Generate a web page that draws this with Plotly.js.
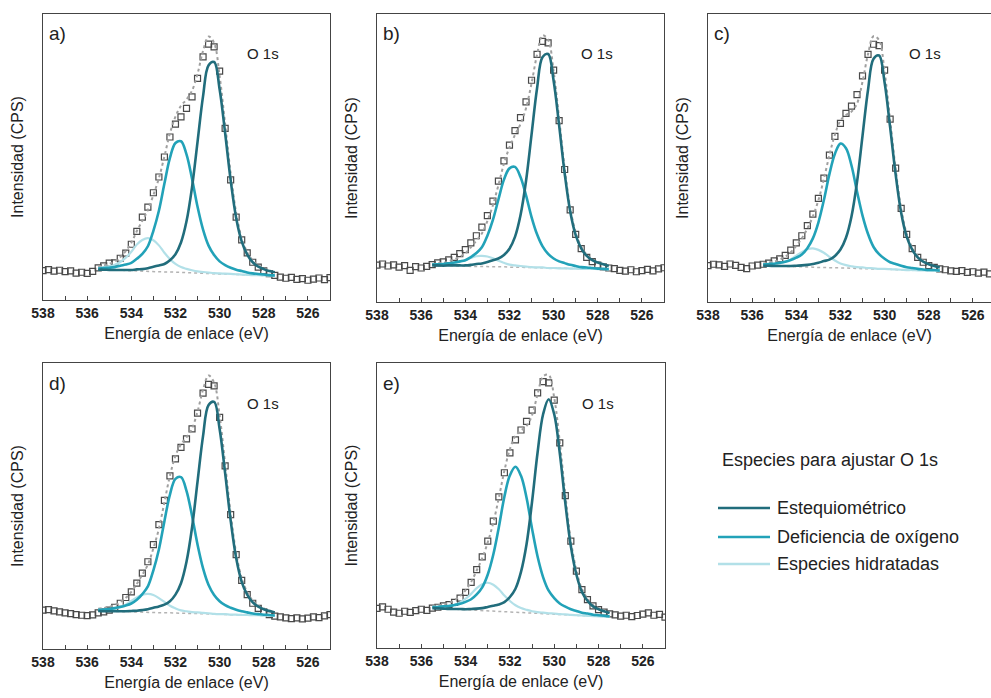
<!DOCTYPE html>
<html><head><meta charset="utf-8">
<script src="https://cdn.plot.ly/plotly-3.0.1.min.js"></script>
<style>html,body{margin:0;padding:0;background:#fff}#chart{width:991px;height:698px}</style>
</head><body><div id="chart"></div>
<script>
// ---- text ----
const PANEL_LABELS = ['a)', 'b)', 'c)', 'd)', 'e)'];
const PEAK_LABEL = 'O 1s';
const X_TITLE = 'Energía de enlace (eV)';
const Y_TITLE = 'Intensidad (CPS)';
const LEGEND_TITLE = 'Especies para ajustar O 1s';
const SERIES_NAMES = ['Estequiométrico', 'Deficiencia de oxígeno', 'Especies hidratadas'];
const SERIES_COLORS = ['#216d7c', '#22a2b8', '#b2e0e8'];

// ---- binding energy grids (eV) ----
const FIT_X = [535.5,535.25,535,534.75,534.5,534.25,534,533.75,533.5,533.25,533,532.75,532.5,532.25,532,531.75,531.5,531.25,531,530.75,530.5,530.25,530,529.75,529.5,529.25,529,528.75,528.5,528.25,528,527.75,527.5];
const DATA_X = [538,537.75,537.5,537.25,537,536.75,536.5,536.25,536,535.75,
  535.5,535.25,535,534.75,534.5,534.25,534,533.75,533.5,533.25,533,532.75,532.5,532.25,532,531.75,531.5,531.25,531,530.75,530.5,530.25,530,529.75,529.5,529.25,529,528.75,528.5,528.25,528,527.75,527.5,
  527.25,527,526.75,526.5,526.25,526,525.75,525.5,525.25,525];

// ---- panel a ----
const BASE_A = [10.6,10.6,10.5,10.4,10.4,10.3,10.2,10.2,10.1,10.0,10.0,9.9,9.8,9.8,9.7,9.6,9.6,9.5,9.4,9.3,9.3,9.2,9.1,9.1,9.0,8.9,8.9,8.8,8.7,8.7,8.6,8.5,8.5];
const EST_A = [0,0,0,0.1,0.1,0.2,0.3,0.5,0.7,1.1,1.6,2.2,2.8,4.1,6.3,10.5,17.9,29.9,45.9,62.0,72.8,74.0,64.6,49.3,32.9,19.8,11.6,7.1,4.5,3.0,2.2,1.6,1.2];
const DEF_A = [0.4,0.6,0.8,1.1,1.6,2.1,2.8,4.2,6.0,8.8,14.2,21.3,30.9,39.9,45.2,45.9,41.3,32.9,23.2,15.3,9.7,6.5,4.4,3.1,2.3,1.7,1.2,0.8,0.6,0.4,0.3,0.2,0.1];
const HYD_A = [0.6,0.9,1.3,1.9,2.9,4.5,6.7,9.2,10.9,11.6,10.9,9.2,6.7,4.5,2.9,1.9,1.3,0.9,0.6,0.5,0.3,0.2,0.2,0.1,0.1,0.1,0,0,0,0,0,0,0];
const DATA_A = [10.3,10.6,10.1,10.4,9.9,10.2,9.4,9.7,9.3,10.0,
  11.2,11.9,12.9,13.0,14.6,16.4,19.5,24.0,29.0,32.5,37.5,43.0,50.0,57.0,61.5,64.0,67.0,71.0,77.5,85.0,89.5,88.5,80.0,60.0,42.0,29.0,21.0,16.5,13.2,11.5,10.2,9.2,8.6,
  8.0,7.6,7.9,7.2,7.5,6.9,7.3,7.7,7.1,7.8];

// ---- panel b ----
const BASE_B = [12.7,12.7,12.6,12.6,12.5,12.5,12.4,12.4,12.4,12.3,12.3,12.3,12.2,12.2,12.1,12.1,12.1,12.0,11.9,11.9,11.9,11.8,11.8,11.7,11.7,11.6,11.6,11.5,11.5,11.5,11.4,11.4,11.3];
const EST_B = [0,0,0,0.1,0.2,0.2,0.3,0.5,0.8,1.1,1.6,2.2,2.9,4.1,6.4,10.5,18.0,30.0,46.2,62.3,73.2,74.3,65.0,49.6,33.0,19.9,11.6,7.1,4.5,3.0,2.3,1.7,1.2];
const DEF_B = [0.3,0.4,0.6,0.8,1.2,1.6,2.1,3.2,4.6,6.7,10.7,16.2,23.4,30.3,34.3,34.8,31.3,25.0,17.6,11.6,7.4,4.9,3.3,2.4,1.8,1.3,0.9,0.6,0.5,0.3,0.2,0.1,0.1];
const HYD_B = [0.2,0.3,0.4,0.6,0.9,1.4,2.1,2.9,3.5,3.7,3.5,2.9,2.1,1.4,0.9,0.6,0.4,0.3,0.2,0.1,0.1,0,0,0,0,0,0,0,0,0,0,0,0];
const DATA_B = [12.8,13.2,12.5,12.9,12.1,12.6,11.0,12.3,11.8,12.4,
  13.0,13.6,13.9,14.6,15.5,16.8,18.2,20.5,23.0,26.0,30.0,35.0,42.0,49.0,54.5,59.5,64.0,69.5,77.0,86.0,90.5,90.0,80.5,63.0,46.0,32.0,23.5,18.5,15.5,14.0,12.8,12.2,11.8,
  11.6,11.0,10.7,11.2,10.5,10.9,11.3,10.8,11.5,11.9];

// ---- panel c ----
const BASE_C = [12.6,12.6,12.5,12.4,12.4,12.3,12.3,12.2,12.2,12.1,12.0,12.0,11.9,11.9,11.8,11.8,11.7,11.6,11.6,11.5,11.5,11.4,11.4,11.3,11.3,11.2,11.1,11.1,11.0,11.0,10.9,10.9,10.8];
const EST_C = [0,0,0,0.1,0.1,0.2,0.3,0.5,0.7,1.1,1.6,2.2,2.8,4.1,6.4,10.5,18.0,30.0,46.1,62.2,73.0,74.2,64.8,49.4,33.0,19.8,11.6,7.1,4.5,3.0,2.2,1.6,1.2];
const DEF_C = [0.4,0.6,0.8,1.2,1.6,2.3,3.1,4.3,6.5,10.0,15.6,23.4,32.5,39.6,43.2,41.6,35.7,26.8,18.4,12.1,7.6,5.2,3.6,2.5,1.9,1.4,1.0,0.7,0.5,0.3,0.2,0.2,0.1];
const HYD_C = [0.4,0.5,0.7,1.0,1.6,2.5,3.8,5.1,6.1,6.5,6.1,5.1,3.8,2.5,1.6,1.0,0.7,0.5,0.4,0.3,0.2,0.1,0.1,0.1,0,0,0,0,0,0,0,0,0];
const DATA_C = [12.6,13.1,12.9,12.4,13.2,12.7,12.0,11.6,12.5,12.8,
  13.1,13.5,14.3,15.0,16.2,18.0,20.5,23.0,26.5,30.5,36.0,43.0,51.0,57.5,62.0,65.5,68.0,72.0,78.5,86.0,89.5,89.0,80.5,63.5,46.5,32.5,23.5,18.5,15.5,13.8,12.6,12.0,11.5,
  11.2,10.8,10.6,10.9,10.3,10.5,10.0,10.4,9.8,10.2];

// ---- panel d ----
const BASE_D = [13.3,13.2,13.2,13.1,13.1,13.0,13.0,12.9,12.9,12.8,12.8,12.7,12.7,12.6,12.6,12.5,12.5,12.4,12.4,12.3,12.3,12.2,12.1,12.1,12.0,12.0,11.9,11.9,11.8,11.8,11.7,11.7,11.6];
const EST_D = [0,0,0,0.1,0.1,0.2,0.3,0.5,0.7,1.1,1.6,2.2,2.8,4.1,6.4,10.5,18.0,30.0,46.1,62.2,73.0,74.2,64.8,49.4,33.0,19.8,11.6,7.1,4.5,3.0,2.2,1.6,1.2];
const DEF_D = [0.4,0.6,0.8,1.2,1.6,2.2,2.9,4.3,6.3,9.1,14.7,22.1,32.0,41.4,46.9,47.6,42.8,34.2,24.1,15.9,10.1,6.7,4.6,3.2,2.4,1.7,1.3,0.9,0.6,0.4,0.3,0.2,0.1];
const HYD_D = [0.4,0.5,0.7,1.0,1.6,2.5,3.8,5.1,6.1,6.5,6.1,5.1,3.8,2.5,1.6,1.0,0.7,0.5,0.4,0.3,0.2,0.1,0.1,0.1,0,0,0,0,0,0,0,0,0];
const DATA_D = [13.6,13.8,13.3,13.0,12.6,12.4,12.0,11.8,11.7,11.9,
  12.6,13.0,13.6,14.6,16.0,18.0,20.0,23.0,26.5,30.5,36.5,43.5,52.0,60.5,66.5,70.5,73.5,77.0,82.5,89.5,92.5,92.0,81.0,64.0,47.0,33.0,24.0,19.0,16.0,14.2,13.0,12.0,11.5,
  11.2,10.9,10.6,10.9,10.5,10.8,11.2,11.0,11.6,12.0];

// ---- panel e ----
const BASE_E = [14.0,13.9,13.8,13.7,13.6,13.5,13.4,13.3,13.2,13.1,13.0,12.9,12.8,12.7,12.6,12.5,12.4,12.3,12.2,12.1,12.0,11.9,11.9,11.8,11.7,11.6,11.5,11.4,11.3,11.2,11.1,11.0,10.9];
const EST_E = [0,0,0,0,0.1,0.2,0.2,0.4,0.6,0.9,1.4,1.9,2.5,3.4,5.3,8.3,14.3,24.1,39.2,56.6,70.1,75.4,70.1,56.6,39.2,24.1,14.3,8.3,5.3,3.4,2.5,1.9,1.4];
const DEF_E = [0.4,0.5,0.8,1.0,1.5,2.0,2.8,3.8,5.6,8.2,12.8,19.9,29.6,40.4,48.0,51.1,48.0,40.4,29.6,19.9,12.8,8.2,5.6,3.8,2.8,2.0,1.5,1.0,0.8,0.5,0.4,0.3,0.2];
const HYD_E = [0.4,0.5,0.7,1.1,1.6,2.5,3.9,5.7,7.8,9.3,9.9,9.3,7.8,5.7,3.9,2.5,1.6,1.1,0.7,0.5,0.4,0.3,0.2,0.1,0.1,0,0,0,0,0,0,0,0];
const DATA_E = [13.9,14.4,13.6,12.6,12.2,12.9,12.5,13.1,13.6,13.2,
  14.0,14.3,14.8,15.2,16.0,17.5,19.5,23.0,27.5,32.0,37.5,44.5,53.0,61.5,68.5,73.0,76.5,79.5,83.5,89.5,93.5,93.0,87.0,72.0,53.5,37.5,27.0,20.5,17.0,14.8,13.5,12.6,12.0,
  11.6,11.2,11.5,11.0,11.4,11.9,12.3,11.5,11.8,10.8];

// ---- layout geometry (pixels in the 991x698 page) ----
const W = 991, H = 698;
const PANEL_BOX = [  // [left, right, top, bottom]
  [43, 330, 14, 300],
  [377, 664, 14, 302],
  [708, 991, 14, 302],
  [43, 330, 363, 649],
  [377, 665, 363, 648]
];
const X_RANGES = [[538, 525], [538, 525], [538, 525.18], [538, 525], [538, 525]];

const panels = [
  [BASE_A, EST_A, DEF_A, HYD_A, DATA_A],
  [BASE_B, EST_B, DEF_B, HYD_B, DATA_B],
  [BASE_C, EST_C, DEF_C, HYD_C, DATA_C],
  [BASE_D, EST_D, DEF_D, HYD_D, DATA_D],
  [BASE_E, EST_E, DEF_E, HYD_E, DATA_E]
];

const FONT = 'Arial, "Liberation Sans", sans-serif';
const traces = [];
const layout = {
  width: W, height: H,
  margin: {l: 0, r: 0, t: 0, b: 0},
  paper_bgcolor: '#fff', plot_bgcolor: '#fff',
  showlegend: false,
  font: {family: FONT, color: '#222'},
  annotations: [], shapes: []
};

panels.forEach((p, k) => {
  const [base, est, def, hyd, data] = p;
  const n = k + 1;
  const xa = 'x' + (n === 1 ? '' : n), ya = 'y' + (n === 1 ? '' : n);
  const add = (arr) => base.map((b, i) => b + arr[i]);
  const envelope = base.map((b, i) => b + est[i] + def[i] + hyd[i]);

  traces.push({x: FIT_X, y: base, xaxis: xa, yaxis: ya, mode: 'lines', hoverinfo: 'skip',
    line: {color: '#b3b3b3', width: 1.5, dash: 'dot'}});
  traces.push({x: DATA_X, y: data, xaxis: xa, yaxis: ya, mode: 'markers', name: 'Datos',
    marker: {symbol: 'square-open', size: 6, color: '#2a2a2a', line: {width: 1.2, color: '#2a2a2a'}}, opacity: 0.85});
  traces.push({x: FIT_X, y: envelope, xaxis: xa, yaxis: ya, mode: 'lines', name: 'Envolvente',
    line: {color: '#a0a0a0', width: 2, dash: 'dot', shape: 'spline'}});
  [hyd, def, est].forEach((comp, ci) => {
    const si = 2 - ci;
    traces.push({x: FIT_X, y: add(comp), xaxis: xa, yaxis: ya, mode: 'lines', name: SERIES_NAMES[si],
      line: {color: SERIES_COLORS[si], width: si === 2 ? 2.2 : 2.6, shape: 'spline'}});
  });

  const [l, r, t, b] = PANEL_BOX[k];
  const xkey = 'xaxis' + (n === 1 ? '' : n), ykey = 'yaxis' + (n === 1 ? '' : n);
  layout[xkey] = {
    domain: [l / W, r / W], anchor: ya, range: X_RANGES[k],
    tick0: 538, dtick: 1, ticklabelstep: 2, ticks: 'inside', ticklen: 4, tickcolor: '#444',
    showline: true, linecolor: '#444', linewidth: 1, mirror: true,
    showgrid: false, zeroline: false,
    tickfont: {family: FONT, size: 14, color: '#222', weight: 'bold'},
    title: {text: X_TITLE, font: {family: FONT, size: 16, color: '#222'}, standoff: 8}
  };
  layout[ykey] = {
    domain: [1 - b / H, 1 - t / H], anchor: xa, range: [0, 100],
    showticklabels: false, ticks: '', showline: true, linecolor: '#444', linewidth: 1, mirror: true,
    showgrid: false, zeroline: false,
    title: {text: Y_TITLE, font: {family: FONT, size: 16, color: '#222'}, standoff: 14}
  };
  const xd = xa + ' domain', yd = ya + ' domain';
  layout.annotations.push({xref: xd, yref: yd, x: 0.015, y: 1 - 20 / (b - t), xanchor: 'left', yanchor: 'middle',
    text: PANEL_LABELS[k], showarrow: false, font: {family: FONT, size: 19, color: '#222'}});
  layout.annotations.push({xref: xd, yref: yd, x: 202 / 287, y: 1 - 40 / (b - t), xanchor: 'left', yanchor: 'middle',
    text: PEAK_LABEL, showarrow: false, font: {family: FONT, size: 15, color: '#222'}});
});

// ---- legend (drawn) ----
layout.annotations.push({xref: 'paper', yref: 'paper', x: 720 / W, y: 1 - 460 / H, xanchor: 'left', yanchor: 'middle',
  text: LEGEND_TITLE, showarrow: false, font: {family: FONT, size: 18, color: '#222'}});
const LEG_Y = [508, 537, 564];
SERIES_NAMES.forEach((nm, i) => {
  layout.shapes.push({type: 'line', xref: 'paper', yref: 'paper', x0: 718 / W, x1: 770 / W,
    y0: 1 - LEG_Y[i] / H, y1: 1 - LEG_Y[i] / H, line: {color: SERIES_COLORS[i], width: 2.5}});
  layout.annotations.push({xref: 'paper', yref: 'paper', x: 775 / W, y: 1 - LEG_Y[i] / H, xanchor: 'left', yanchor: 'middle',
    text: nm, showarrow: false, font: {family: FONT, size: 18, color: '#222'}});
});

Plotly.newPlot('chart', traces, layout, {displayModeBar: false, staticPlot: true});
</script>
</body></html>
